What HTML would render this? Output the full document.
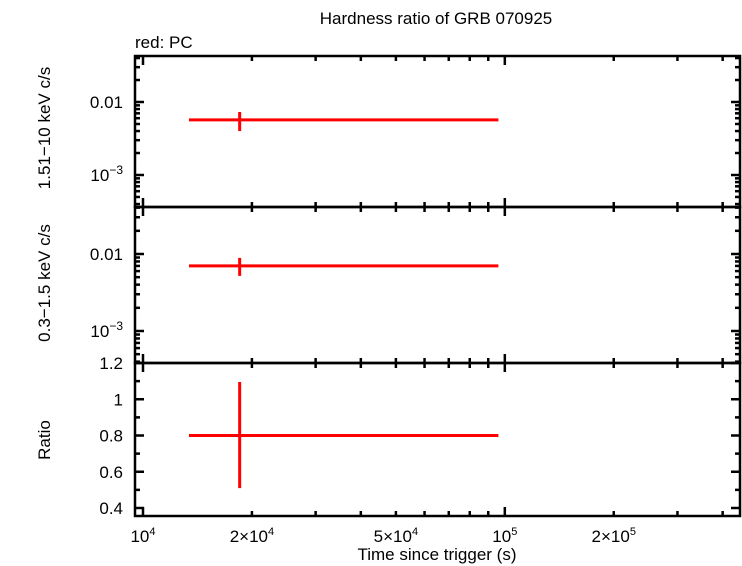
<!DOCTYPE html>
<html><head><meta charset="utf-8"><style>
body{margin:0;background:#fff}
svg{display:block;font-family:"Liberation Sans",sans-serif}
</style></head><body>
<svg id="c" width="742" height="566"></svg>
<script>
const xRangeLog=[4.0 - 8/362, 5.65];
const hardTime=[18500], hardTimeLo=[13400], hardTimeHi=[96000];
const hardRate=[0.0057], hardRateLo=[0.0040], hardRateHi=[0.0073];
const softRate=[0.0070], softRateLo=[0.0052], softRateHi=[0.0089];
const ratioVal=[0.80], ratioLo=[0.51], ratioHi=[1.095];
const xTickVals=[1e4,2e4,5e4,1e5,2e5];
const xTickLabels=['10<tspan dy="-7" font-size="11">4</tspan>','2×10<tspan dy="-7" font-size="11">4</tspan>','5×10<tspan dy="-7" font-size="11">4</tspan>','10<tspan dy="-7" font-size="11">5</tspan>','2×10<tspan dy="-7" font-size="11">5</tspan>'];
const ratioTicks=[0.4,0.6,0.8,1.0,1.2];
const ratioTickLabels=['0.4','0.6','0.8','1','1.2'];

const NS='http://www.w3.org/2000/svg';
const svg=document.getElementById('c');
const L=135,R=740;
const panels=[
 {top:56,bot:207,log:true,min:-3.0-32/73,max:-2+46/73,name:'hard-panel'},
 {top:207,bot:363,log:true,min:-3-32/77,max:-2+47/77,name:'soft-panel'},
 {top:363,bot:516,log:false,min:0.4-8/145*0.8,max:1.2,name:'ratio-panel'}
];
function X(v){return L+(Math.log10(v)-xRangeLog[0])/(xRangeLog[1]-xRangeLog[0])*(R-L);}
function Y(p,v){const t=p.log?Math.log10(v):v;return p.bot-(t-p.min)/(p.max-p.min)*(p.bot-p.top);}
function mk(tag,at,parent){const e=document.createElementNS(NS,tag);for(const k in at)e.setAttribute(k,at[k]);(parent||svg).appendChild(e);return e;}
function line(x1,y1,x2,y2,col,w,name){const e=mk('line',{x1,y1,x2,y2,stroke:col,'stroke-width':w});

return e;}
function text(x,y,s,anchor,name,size){const e=mk('text',{x,y,'text-anchor':anchor,'font-size':size||17,fill:'#000'});e.innerHTML=s;

return e;}

panels.forEach((p,pi)=>{
 const fr=mk('rect',{x:L,y:p.top,width:R-L,height:p.bot-p.top,fill:'none',stroke:'#000','stroke-width':2.5});
 
 
 for(let d=4;d<=5;d++)for(let m=1;m<10;m++){const v=m*Math.pow(10,d);const x=X(v);if(x<L||x>R)continue;
  const len=m===1?9:5;
  line(x,p.bot,x,p.bot-len,'#000',2.5,'x-tick');line(x,p.top,x,p.top+len,'#000',2.5,'x-tick');}
 if(p.log){
  for(let d=-4;d<=-1;d++)for(let m=1;m<10;m++){const v=m*Math.pow(10,d);const lv=Math.log10(v);if(lv<p.min||lv>p.max)continue;
   const y=Y(p,v),len=m===1?9:5;
   line(L,y,L+len,y,'#000',2.5,'y-tick');line(R,y,R-len,y,'#000',2.5,'y-tick');}
  text(L-12,Y(p,0.01)+6,'0.01','end','y-tick-label-0.01');
  text(L-12,Y(p,0.001)+6,'10<tspan dy="-7" font-size="12">−3</tspan>','end','y-tick-label-1e-3');
 } else {
  for(let k=4;k<=12;k++){const v=k/10;const y=Y(p,v);const len=k%2===0?9:5;
   line(L,y,L+len,y,'#000',2.5,'y-tick');line(R,y,R-len,y,'#000',2.5,'y-tick');}
  ratioTicks.forEach((v,i)=>text(L-12,Y(p,v)+6,ratioTickLabels[i],'end','ratio-tick-label'));
 }
});
const pb=panels[2];
xTickVals.forEach((v,i)=>text(X(v),pb.bot+18+8,xTickLabels[i],'middle','x-tick-label'));

function series(p,t,tl,th,v,vl,vh,name){
 for(let i=0;i<t.length;i++){
  line(X(tl[i]),Y(p,v[i]),X(th[i]),Y(p,v[i]),'#ff0000',3,name+'-xerr');
  line(X(t[i]),Y(p,vl[i]),X(t[i]),Y(p,vh[i]),'#ff0000',3,name+'-yerr');
 }
}
series(panels[0],hardTime,hardTimeLo,hardTimeHi,hardRate,hardRateLo,hardRateHi,'hard-point');
series(panels[1],hardTime,hardTimeLo,hardTimeHi,softRate,softRateLo,softRateHi,'soft-point');
series(panels[2],hardTime,hardTimeLo,hardTimeHi,ratioVal,ratioLo,ratioHi,'ratio-point');

text(436,24,'Hardness ratio of GRB 070925','middle','chart-title');
text(135,48,'red: PC','start','legend-label');
text(437,560,'Time since trigger (s)','middle','x-axis-title');
let t1=text(0,0,'1.51−10 keV c/s','middle','hard-y-axis-title');t1.setAttribute('transform','translate(50,128) rotate(-90)');
let t2=text(0,0,'0.3−1.5 keV c/s','middle','soft-y-axis-title');t2.setAttribute('transform','translate(50,283) rotate(-90)');
let t3=text(0,0,'Ratio','middle','ratio-y-axis-title');t3.setAttribute('transform','translate(50,440) rotate(-90)');
</script>
</body></html>
